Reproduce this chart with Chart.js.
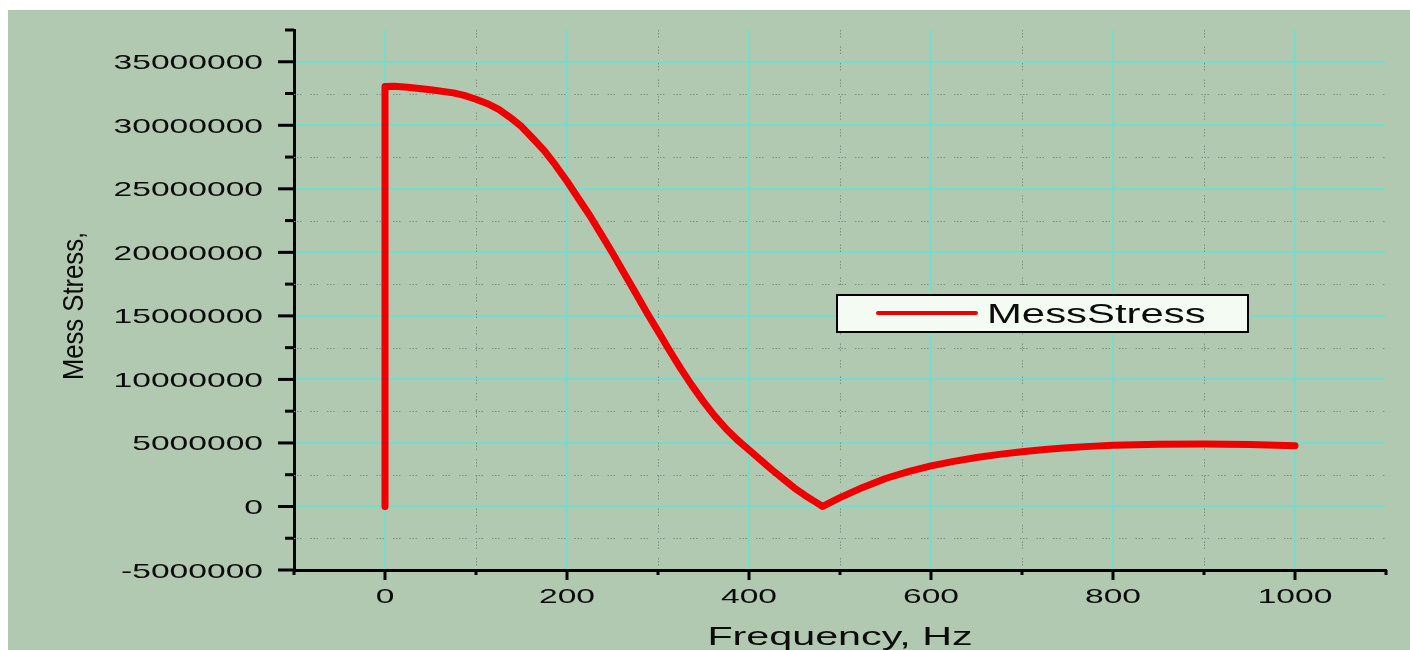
<!DOCTYPE html>
<html>
<head>
<meta charset="utf-8">
<title>Mess Stress</title>
<script src="https://cdn.jsdelivr.net/npm/chart.js@4.4.1/dist/chart.umd.min.js"></script>
<style>
  body { margin: 0; background: #ffffff; }
  #wrap { width: 1410px; height: 650px; }
</style>
</head>
<body>
<div id="wrap"><canvas id="stressChart" width="1410" height="650"></canvas></div>
<script>
var freqHz = [0, 0, 10, 25, 50, 75, 87, 100, 112, 125, 137,
    150, 162, 175, 187, 200, 212, 225, 237, 250, 262,
    275, 287, 300, 312, 325, 337, 350, 362, 375, 387,
    400, 412, 425, 437, 450, 462, 472, 481, 500, 525,
    550, 575, 600, 625, 650, 675, 700, 725, 750, 775,
    800, 850, 900, 950, 1000];
var messStress = [0, 33050000, 33070000, 33000000, 32800000, 32550000, 32350000, 32050000, 31720000, 31250000, 30650000,
    29900000, 29000000, 28000000, 26900000, 25600000, 24300000, 22900000, 21500000, 19950000, 18450000,
    16850000, 15350000, 13800000, 12350000, 10850000, 9550000, 8250000, 7150000, 6100000, 5250000,
    4450000, 3700000, 2900000, 2200000, 1450000, 850000, 400000, 0, 700000, 1500000,
    2200000, 2750000, 3200000, 3550000, 3850000, 4100000, 4300000, 4480000, 4620000, 4730000,
    4810000, 4900000, 4920000, 4880000, 4780000];

var xTickLabels = [0, 200, 400, 600, 800, 1000];
var yTickLabels = [-5000000, 0, 5000000, 10000000, 15000000, 20000000, 25000000, 30000000, 35000000];
var seriesName = 'MessStress';
var xTitle = 'Frequency, Hz';
var yTitle = 'Mess Stress,';

var SAGE = '#b1c8b1';
var CYAN = '#76dccb';
var DOTS = '#7f8e80';
var INK = '#0c0c0c';
var RED = '#ee0000';

var points = [];
for (var i = 0; i < freqHz.length; i++) {
    points.push({ x: freqHz[i], y: messStress[i] });
}

function isLabelled(list, v) {
    return list.indexOf(v) !== -1;
}

// text in this chart is drawn wide, so squeeze it through a horizontal scale
function wideText(ctx, text, x, y, align, sx) {
    ctx.save();
    ctx.translate(x, y);
    ctx.scale(sx, 1);
    ctx.textAlign = align;
    ctx.textBaseline = 'alphabetic';
    ctx.fillText(text, 0, 0);
    ctx.restore();
}

function dotted(ctx, x1, y1, x2, y2) {
    ctx.beginPath();
    ctx.moveTo(x1, y1);
    ctx.lineTo(x2, y2);
    ctx.stroke();
}

var origin = {
    id: 'origin',
    beforeDraw: function (chart) {
        var ctx = chart.ctx;
        ctx.save();
        ctx.fillStyle = '#ffffff';
        ctx.fillRect(0, 0, chart.width, chart.height);
        ctx.fillStyle = SAGE;
        ctx.fillRect(8, 10, chart.width - 8, chart.height - 10);
        ctx.restore();
    },
    beforeDatasetsDraw: function (chart) {
        // minor grid: gray dotted lines between the cyan ones
        var ctx = chart.ctx, area = chart.chartArea;
        var xs = chart.scales.x, ys = chart.scales.y;
        ctx.save();
        ctx.strokeStyle = DOTS;
        ctx.lineWidth = 1;
        ctx.setLineDash([1.5, 1.5, 1.5, 1.5, 1.5, 9]);
        ys.ticks.forEach(function (t) {
            if (t.value % 5000000 !== 0 && t.value < ys.max) {
                var py = Math.round(ys.getPixelForValue(t.value)) + 0.5;
                dotted(ctx, area.left, py, area.right, py);
            }
        });
        xs.ticks.forEach(function (t) {
            if (t.value % 200 !== 0 && t.value > xs.min && t.value < xs.max) {
                var px = Math.round(xs.getPixelForValue(t.value)) + 0.5;
                dotted(ctx, px, area.top, px, area.bottom);
            }
        });
        ctx.restore();
    },
    afterDraw: function (chart) {
        var ctx = chart.ctx, area = chart.chartArea;
        var xs = chart.scales.x, ys = chart.scales.y;
        ctx.save();

        // tick marks
        ctx.strokeStyle = '#000000';
        ctx.lineWidth = 3;
        ys.ticks.forEach(function (t) {
            var py = ys.getPixelForValue(t.value);
            var len = t.value % 5000000 === 0 ? 16 : 9;
            ctx.beginPath();
            ctx.moveTo(area.left - len, py);
            ctx.lineTo(area.left, py);
            ctx.stroke();
        });
        xs.ticks.forEach(function (t) {
            var px = xs.getPixelForValue(t.value);
            var len = t.value % 200 === 0 ? 10 : 5;
            ctx.beginPath();
            ctx.moveTo(px, area.bottom);
            ctx.lineTo(px, area.bottom + len);
            ctx.stroke();
        });

        // tick labels
        ctx.fillStyle = INK;
        ctx.font = '21px "Liberation Sans", Arial, sans-serif';
        ys.ticks.forEach(function (t) {
            if (isLabelled(yTickLabels, t.value)) {
                wideText(ctx, String(t.value), 263, ys.getPixelForValue(t.value) + 7.5, 'right', 1.6);
            }
        });
        xs.ticks.forEach(function (t) {
            if (isLabelled(xTickLabels, t.value)) {
                wideText(ctx, String(t.value), xs.getPixelForValue(t.value), 603, 'center', 1.6);
            }
        });

        // axis titles
        ctx.font = '25px "Liberation Sans", Arial, sans-serif';
        wideText(ctx, xTitle, (area.left + area.right) / 2, 645, 'center', 1.65);

        ctx.save();
        ctx.font = '27px "Liberation Sans", Arial, sans-serif';
        ctx.translate(83, 306);
        ctx.rotate(-Math.PI / 2);
        ctx.scale(0.95, 1.08);
        ctx.textAlign = 'center';
        ctx.fillText(yTitle, 0, 0);
        ctx.restore();

        // legend box
        ctx.fillStyle = '#f3fbf3';
        ctx.fillRect(837, 295, 411, 37);
        ctx.strokeStyle = '#000000';
        ctx.lineWidth = 2;
        ctx.strokeRect(837, 295, 411, 37);
        ctx.strokeStyle = chart.data.datasets[0].borderColor;
        ctx.lineWidth = 4;
        ctx.lineCap = 'round';
        ctx.beginPath();
        ctx.moveTo(878, 313);
        ctx.lineTo(976, 313);
        ctx.stroke();
        ctx.fillStyle = INK;
        ctx.font = '27px "Liberation Sans", Arial, sans-serif';
        wideText(ctx, chart.data.datasets[0].label, 987, 323, 'left', 1.55);

        ctx.restore();
    }
};

var stressChart = new Chart(document.getElementById('stressChart'), {
    type: 'line',
    data: {
        datasets: [{
            label: seriesName,
            data: points,
            borderColor: RED,
            borderWidth: 7,
            borderCapStyle: 'round',
            borderJoinStyle: 'round',
            pointRadius: 0,
            tension: 0,
            fill: false
        }]
    },
    options: {
        responsive: false,
        devicePixelRatio: 1,
        animation: false,
        layout: {
            padding: { top: 30, right: 24, left: 0, bottom: 0 }
        },
        plugins: {
            legend: { display: false },
            tooltip: { enabled: false }
        },
        scales: {
            x: {
                type: 'linear',
                min: -100,
                max: 1100,
                ticks: { display: false, stepSize: 100 },
                grid: {
                    drawTicks: false,
                    lineWidth: 2,
                    color: function (c) {
                        var v = c.tick ? c.tick.value : NaN;
                        return isLabelled(xTickLabels, v) ? CYAN : 'rgba(0,0,0,0)';
                    }
                },
                border: { color: '#000000', width: 3 },
                afterFit: function (scale) { scale.height = 80; }
            },
            y: {
                type: 'linear',
                min: -5000000,
                max: 37500000,
                ticks: { display: false, stepSize: 2500000 },
                grid: {
                    drawTicks: false,
                    lineWidth: 2,
                    color: function (c) {
                        var v = c.tick ? c.tick.value : NaN;
                        return isLabelled(yTickLabels, v) ? CYAN : 'rgba(0,0,0,0)';
                    }
                },
                border: { color: '#000000', width: 3 },
                afterFit: function (scale) { scale.width = 294; }
            }
        }
    },
    plugins: [origin]
});
</script>
</body>
</html>
